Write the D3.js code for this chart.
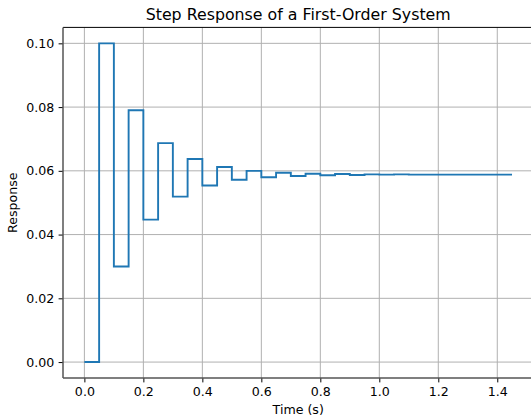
<!DOCTYPE html>
<html lang="en">
<head>
<meta charset="utf-8">
<script src="https://cdn.jsdelivr.net/npm/d3@7"></script>
<style type="text/css">
body {
	margin: 0;
	background: white;
	font-family: "DejaVu Sans", sans-serif;
}
.tick text {
	font-family: "DejaVu Sans", sans-serif;
	font-size: 12.6px;
	fill: #000;
}
</style>
</head>
<body>
<script type="text/javascript">

// sample times (s) and response values
var times = [0.00, 0.05, 0.10, 0.15, 0.20, 0.25, 0.30, 0.35, 0.40, 0.45,
             0.50, 0.55, 0.60, 0.65, 0.70, 0.75, 0.80, 0.85, 0.90, 0.95,
             1.00, 1.05, 1.10, 1.15, 1.20, 1.25, 1.30, 1.35, 1.40, 1.45];
var response = [0.0000, 0.1000, 0.0300, 0.0790, 0.0447, 0.0687, 0.0519, 0.0637, 0.0554, 0.0612,
                0.0572, 0.0600, 0.0580, 0.0594, 0.0584, 0.0591, 0.0586, 0.0590, 0.0587, 0.0589,
                0.0588, 0.0589, 0.0588, 0.0588, 0.0588, 0.0588, 0.0588, 0.0588, 0.0588, 0.0588];
var xTicks = [0, 0.2, 0.4, 0.6, 0.8, 1.0, 1.2, 1.4];
var yTicks = [0, 0.02, 0.04, 0.06, 0.08, 0.10];

var width = 531;
var height = 417;
var margin = {top: 27.4, right: -2.4, bottom: 39, left: 63};

var svg = d3.select("body")
			.append("svg")
			.attr("width", width)
			.attr("height", height);

var x = d3.scaleLinear()
		  .domain([-0.0725, 1.5225])
		  .range([margin.left, width - margin.right]);
var y = d3.scaleLinear()
		  .domain([-0.005, 0.105])
		  .range([height - margin.bottom, margin.top]);

var data = times.map((t, i) => ({t: t, v: response[i]}));

// grid
svg.append("g")
	.selectAll("line.gx")
	.data(xTicks)
	.enter().append("line")
	.attr("x1", d => x(d)).attr("x2", d => x(d))
	.attr("y1", margin.top).attr("y2", height - margin.bottom)
	.style("stroke", "#b0b0b0").style("stroke-width", 1);
svg.append("g")
	.selectAll("line.gy")
	.data(yTicks)
	.enter().append("line")
	.attr("x1", margin.left).attr("x2", width)
	.attr("y1", d => y(d)).attr("y2", d => y(d))
	.style("stroke", "#b0b0b0").style("stroke-width", 1);

// step line
var line = d3.line()
			 .x(d => x(d.t))
			 .y(d => y(d.v))
			 .curve(d3.curveStepAfter);
svg.append("path")
	.datum(data)
	.attr("d", line)
	.style("fill", "none")
	.style("stroke", "#1f77b4")
	.style("stroke-width", 1.9);

// axes
var xAxis = svg.append("g")
	.attr("transform", "translate(0," + (height - margin.bottom) + ")")
	.call(d3.axisBottom(x).tickValues(xTicks).tickFormat(d3.format(".1f")).tickSize(4.4).tickPadding(4.4));
var yAxis = svg.append("g")
	.attr("transform", "translate(" + margin.left + ",0)")
	.call(d3.axisLeft(y).tickValues(yTicks).tickFormat(d3.format(".2f")).tickSize(4.4).tickPadding(4.4));
[xAxis, yAxis].forEach(function(a) {
	a.select(".domain").remove();
	a.selectAll(".tick line").style("stroke", "#000").style("stroke-width", 1);
});

// spines
svg.append("line")
	.attr("x1", margin.left).attr("x2", width)
	.attr("y1", margin.top).attr("y2", margin.top)
	.style("stroke", "#000").style("stroke-width", 1);
svg.append("line")
	.attr("x1", margin.left).attr("x2", margin.left)
	.attr("y1", margin.top).attr("y2", height - margin.bottom)
	.style("stroke", "#555").style("stroke-width", 1.5);
svg.append("line")
	.attr("x1", margin.left).attr("x2", width)
	.attr("y1", height - margin.bottom).attr("y2", height - margin.bottom)
	.style("stroke", "#555").style("stroke-width", 1.5);

// labels
var cx = (margin.left + width - margin.right) / 2;
svg.append("text")
	.attr("x", cx).attr("y", 20)
	.attr("text-anchor", "middle")
	.style("font-size", "15.8px")
	.text("Step Response of a First-Order System");
svg.append("text")
	.attr("x", cx).attr("y", 414)
	.attr("text-anchor", "middle")
	.style("font-size", "12.6px")
	.text("Time (s)");
svg.append("text")
	.attr("transform", "translate(17," + ((margin.top + height - margin.bottom) / 2) + ") rotate(-90)")
	.attr("text-anchor", "middle")
	.style("font-size", "12.6px")
	.text("Response");

</script>
</body>
</html>
